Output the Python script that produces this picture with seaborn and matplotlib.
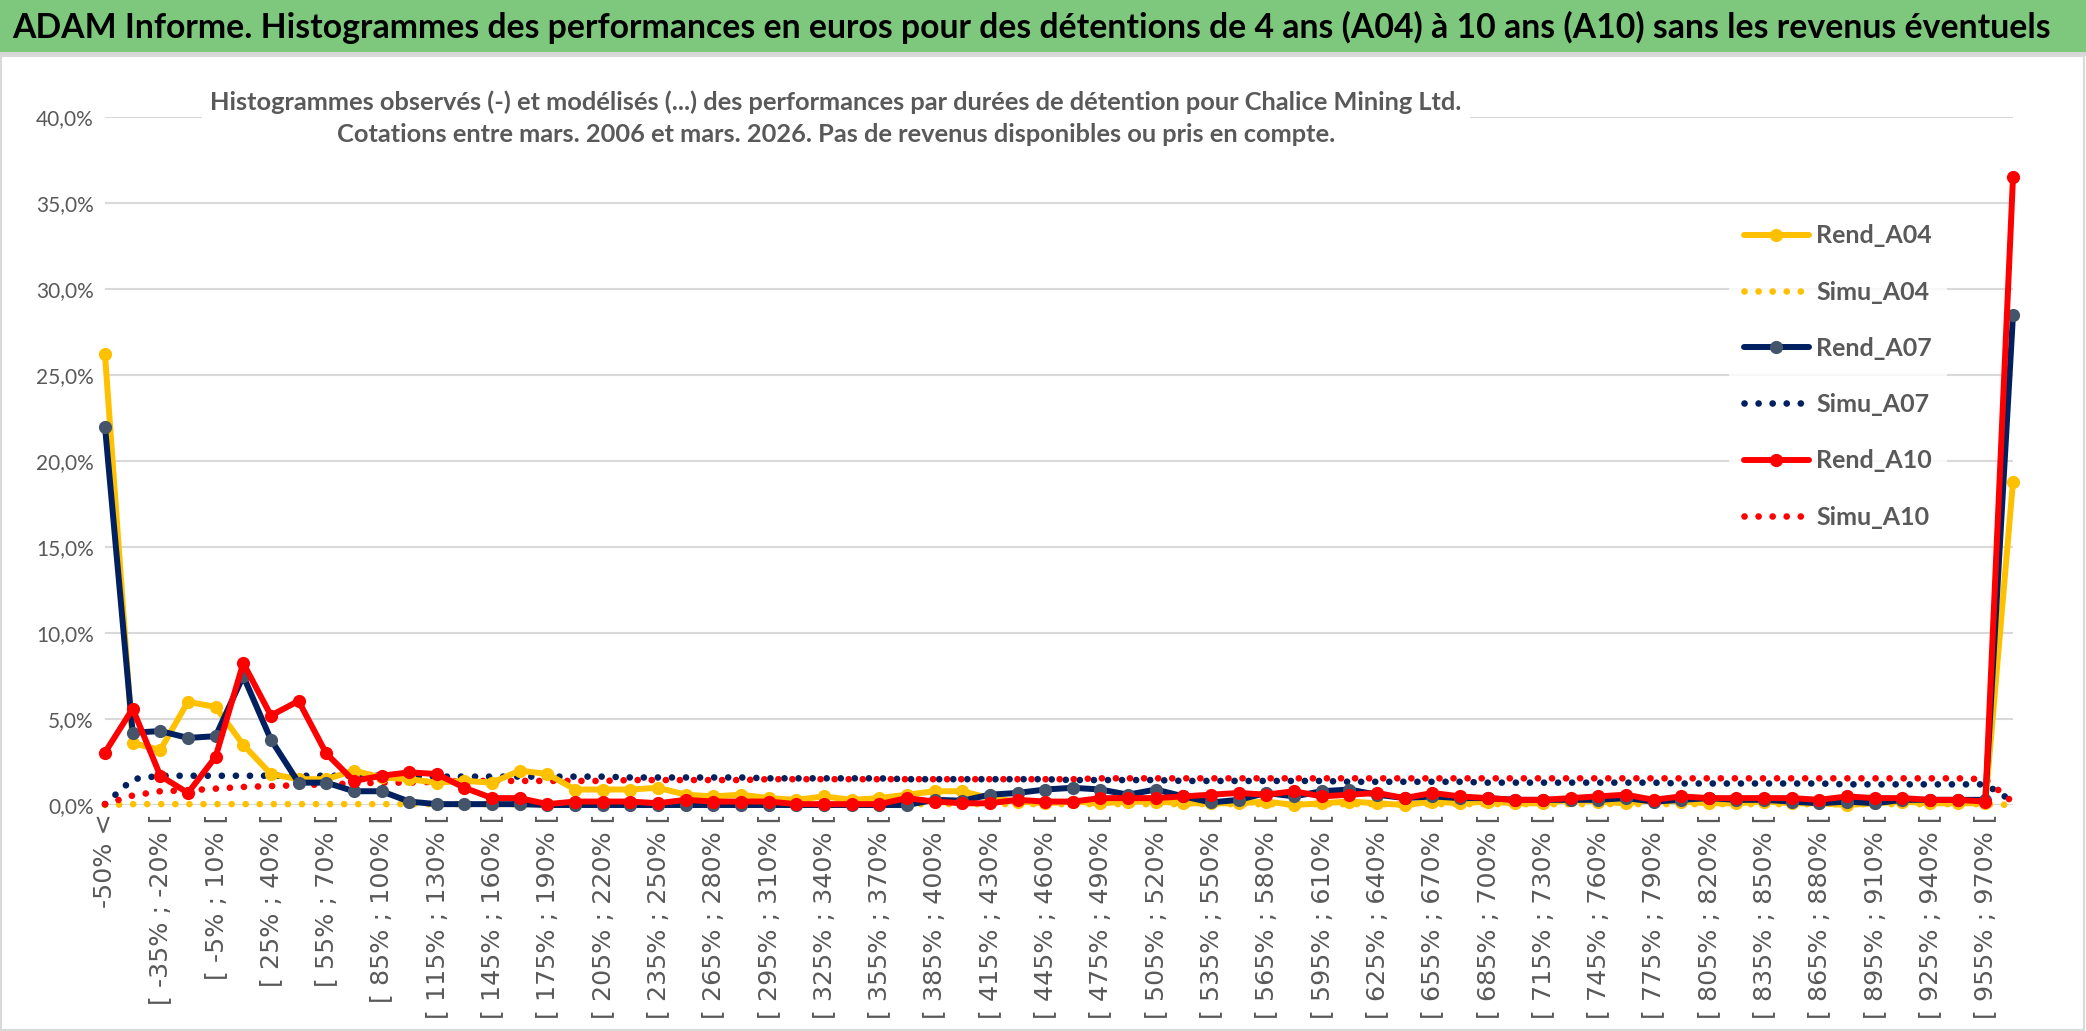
import numpy as np
import pandas as pd
import matplotlib
matplotlib.use("Agg")
import matplotlib.pyplot as plt
from matplotlib.patches import Rectangle
from matplotlib.ticker import FuncFormatter
import seaborn as sns

# ---------------- data (percent) ----------------
lower_bounds = list(range(-50, 970, 15))
categories = ["-50% <"] + [f"[ {a}% ; {a + 15}% [" for a in lower_bounds] + ["970% >="]

rend_a04 = [26.2, 3.6, 3.2, 6.0, 5.7, 3.5, 1.8, 1.5, 1.5, 2.0,
            1.6, 1.5, 1.3, 1.4, 1.3, 2.0, 1.8, 0.9, 0.9, 0.9,
            1.0, 0.6, 0.5, 0.6, 0.4, 0.3, 0.5, 0.3, 0.4, 0.6,
            0.8, 0.8, 0.4, 0.2, 0.1, 0.2, 0.1, 0.2, 0.2, 0.1,
            0.1, 0.1, 0.2, 0.0, 0.1, 0.2, 0.1, 0.0, 0.2, 0.1,
            0.2, 0.1, 0.1, 0.3, 0.2, 0.1, 0.3, 0.2, 0.1, 0.1,
            0.2, 0.1, 0.1, 0.0, 0.1, 0.2, 0.1, 0.1, 0.1, 18.8]
simu_a04 = [0.0, 0.05, 0.05, 0.05, 0.05, 0.05, 0.05, 0.05, 0.05, 0.05,
            0.05, 0.05, 0.05, 0.05, 0.05, 0.05, 0.05, 0.05, 0.05, 0.05,
            0.05, 0.05, 0.05, 0.05, 0.05, 0.05, 0.05, 0.05, 0.05, 0.05,
            0.05, 0.05, 0.05, 0.05, 0.05, 0.05, 0.05, 0.05, 0.05, 0.05,
            0.05, 0.05, 0.05, 0.05, 0.05, 0.05, 0.05, 0.05, 0.05, 0.05,
            0.05, 0.05, 0.05, 0.05, 0.05, 0.05, 0.05, 0.05, 0.05, 0.05,
            0.05, 0.05, 0.05, 0.05, 0.05, 0.05, 0.05, 0.05, 0.05, 0.0]
rend_a07 = [22.0, 4.2, 4.3, 3.9, 4.0, 7.5, 3.8, 1.3, 1.3, 0.8,
            0.8, 0.2, 0.05, 0.05, 0.05, 0.05, 0.0, 0.0, 0.0, 0.0,
            0.0, 0.0, 0.0, 0.0, 0.0, 0.0, 0.0, 0.0, 0.0, 0.0,
            0.3, 0.25, 0.6, 0.7, 0.9, 1.0, 0.9, 0.6, 0.9, 0.5,
            0.15, 0.3, 0.7, 0.5, 0.8, 0.9, 0.6, 0.4, 0.5, 0.4,
            0.4, 0.3, 0.3, 0.3, 0.3, 0.4, 0.2, 0.3, 0.4, 0.3,
            0.3, 0.2, 0.1, 0.2, 0.1, 0.3, 0.3, 0.3, 0.3, 28.5]
simu_a07 = [0.05, 1.5, 1.7, 1.7, 1.7, 1.7, 1.7, 1.7, 1.7, 1.7,
            1.7, 1.7, 1.65, 1.65, 1.65, 1.65, 1.65, 1.65, 1.65, 1.6,
            1.6, 1.6, 1.6, 1.6, 1.55, 1.55, 1.55, 1.55, 1.55, 1.5,
            1.5, 1.5, 1.5, 1.5, 1.5, 1.45, 1.45, 1.45, 1.45, 1.4,
            1.4, 1.4, 1.4, 1.4, 1.4, 1.35, 1.35, 1.35, 1.35, 1.35,
            1.3, 1.3, 1.3, 1.3, 1.3, 1.3, 1.3, 1.25, 1.25, 1.25,
            1.25, 1.25, 1.25, 1.2, 1.2, 1.2, 1.2, 1.2, 1.2, 0.2]
rend_a10 = [3.05, 5.6, 1.7, 0.7, 2.8, 8.25, 5.2, 6.05, 3.0, 1.4,
            1.7, 1.9, 1.8, 1.0, 0.4, 0.4, 0.05, 0.2, 0.2, 0.2,
            0.1, 0.3, 0.2, 0.2, 0.2, 0.05, 0.05, 0.05, 0.05, 0.4,
            0.2, 0.1, 0.1, 0.3, 0.2, 0.2, 0.4, 0.4, 0.4, 0.5,
            0.6, 0.7, 0.6, 0.8, 0.5, 0.6, 0.7, 0.4, 0.7, 0.5,
            0.4, 0.3, 0.3, 0.4, 0.5, 0.6, 0.3, 0.5, 0.4, 0.4,
            0.4, 0.4, 0.3, 0.5, 0.4, 0.4, 0.3, 0.3, 0.2, 36.5]
simu_a10 = [0.05, 0.55, 0.8, 0.85, 0.95, 1.05, 1.1, 1.15, 1.2, 1.25,
            1.3, 1.3, 1.35, 1.4, 1.4, 1.4, 1.4, 1.4, 1.4, 1.45,
            1.45, 1.45, 1.45, 1.45, 1.5, 1.5, 1.5, 1.5, 1.5, 1.5,
            1.5, 1.5, 1.5, 1.5, 1.5, 1.5, 1.55, 1.55, 1.55, 1.55,
            1.55, 1.55, 1.55, 1.55, 1.55, 1.55, 1.55, 1.55, 1.55, 1.55,
            1.55, 1.55, 1.55, 1.55, 1.55, 1.55, 1.55, 1.55, 1.55, 1.55,
            1.55, 1.55, 1.55, 1.55, 1.55, 1.55, 1.55, 1.55, 1.5, 0.15]

series_names = ["Rend_A04", "Simu_A04", "Rend_A07", "Simu_A07", "Rend_A10", "Simu_A10"]
series_values = [rend_a04, simu_a04, rend_a07, simu_a07, rend_a10, simu_a10]

title_text = ("ADAM Informe. Histogrammes des performances en euros pour des détentions "
              "de 4 ans (A04) à 10 ans (A10) sans les revenus éventuels")
subtitle_text = ("Histogrammes observés (-) et modélisés (...) des performances par durées de détention pour Chalice Mining Ltd.\n"
                 "Cotations entre mars. 2006 et mars. 2026. Pas de revenus disponibles ou pris en compte.")

# ---------------- styling ----------------
sns.set_theme(style="white")
plt.rcParams["font.family"] = ["Lato", "DejaVu Sans"]

W, H = 2086, 1031
fig = plt.figure(figsize=(W / 100, H / 100), dpi=100)
fig.patch.set_facecolor("white")

# banner
fig.patches.append(Rectangle((0, 1 - 52 / H), 1, 52 / H, transform=fig.transFigure,
                             facecolor="#7DC87D", edgecolor="none", zorder=0))
fig.patches.append(Rectangle((0, 1 - 56 / H), 1, 4 / H, transform=fig.transFigure,
                             facecolor="#D6D6D6", edgecolor="none", zorder=0))
fig.patches.append(Rectangle((1 / W, 1 / H), 1 - 3 / W, 1 - 57 / H, transform=fig.transFigure,
                             facecolor="none", edgecolor="#D9D9D9", linewidth=1.5, zorder=0))
fig.text(12 / W, 1 - 27 / H, title_text, ha="left", va="center", fontsize=24.3,
         fontweight="bold", color="black", family=["Lato", "DejaVu Sans"])

left, right = 105 / W, 2013 / W
bottom, top = 1 - 805 / H, 1 - 117 / H
ax = fig.add_axes([left, bottom, right - left, top - bottom])

x = np.arange(len(categories))
styles = {
    "Rend_A04": dict(color="#FFC000", mfc="#FFC000", solid=True),
    "Simu_A04": dict(color="#FFC000", solid=False),
    "Rend_A07": dict(color="#002060", mfc="#44546A", solid=True),
    "Simu_A07": dict(color="#002060", solid=False),
    "Rend_A10": dict(color="#FF0000", mfc="#FF0000", solid=True),
    "Simu_A10": dict(color="#FF0000", solid=False),
}

# draw dotted (simulated) first, then observed on top
order = ["Simu_A04", "Simu_A07", "Simu_A10", "Rend_A04", "Rend_A07", "Rend_A10"]
handles = {}
for name in order:
    vals = series_values[series_names.index(name)]
    df = pd.DataFrame({"x": x, "y": vals})
    st = styles[name]
    n_before = len(ax.lines)
    if st["solid"]:
        sns.lineplot(data=df, x="x", y="y", ax=ax, color=st["color"], linewidth=4.3,
                     marker="o", markersize=9.5, markerfacecolor=st["mfc"],
                     markeredgewidth=0, clip_on=False, zorder=4, sort=False)
    else:
        sns.lineplot(data=df, x="x", y="y", ax=ax, color=st["color"], linewidth=4.8,
                     clip_on=False, zorder=3, sort=False)
    line = ax.lines[n_before]
    if not st["solid"]:
        line.set_linestyle((0, (0.01, 2.1)))
        line.set_dash_capstyle("round")
    line.set_solid_capstyle("round")
    line.set_solid_joinstyle("round")
    handles[name] = line

ax.set_xlim(0, len(categories) - 1)
ax.set_ylim(0, 40)
ax.set_yticks(np.arange(0, 40.1, 5))
ax.yaxis.set_major_formatter(FuncFormatter(lambda v, p: f"{v:.1f}%".replace(".", ",")))
ax.set_xticks(x[::2])
ax.set_xticklabels(categories[::2], rotation=90, va="top", ha="center",
                   family=["DejaVu Sans"])
ax.set_xticks(np.arange(0, len(categories), 4), minor=True)
ax.set_xlabel("")
ax.set_ylabel("")
ax.tick_params(axis="both", which="both", length=0, colors="#595959")
ax.tick_params(axis="y", labelsize=15, pad=8)
ax.tick_params(axis="x", labelsize=18.3, pad=6)
ax.grid(False)
ax.grid(axis="y", which="major", color="#D9D9D9", linewidth=1.5)
ax.grid(axis="x", which="minor", color="#D9D9D9", linewidth=1.5)
ax.set_axisbelow(True)
for s in ax.spines.values():
    s.set_visible(False)

# subtitle box covering the gridlines
fig.text(836 / W, 1 - 118 / H, subtitle_text, ha="center", va="center", fontsize=18.3,
         color="#595959", linespacing=1.45, fontweight="bold",
         family=["Lato", "DejaVu Sans"],
         bbox=dict(facecolor="white", edgecolor="none", pad=6))

leg = ax.legend([handles[n] for n in series_names], series_names,
                loc="upper left", bbox_to_anchor=(1716 / W, 1 - 197 / H),
                bbox_transform=fig.transFigure, frameon=True, facecolor="white",
                edgecolor="none", fancybox=False, handlelength=2.6, handletextpad=0.3,
                labelspacing=1.33, borderpad=0.6,
                prop=dict(family=["Lato", "DejaVu Sans"], size=18, weight="bold"))
for t in leg.get_texts():
    t.set_color("#595959")
leg.set_zorder(10)

fig.savefig("out.png", dpi=100, facecolor="white")
